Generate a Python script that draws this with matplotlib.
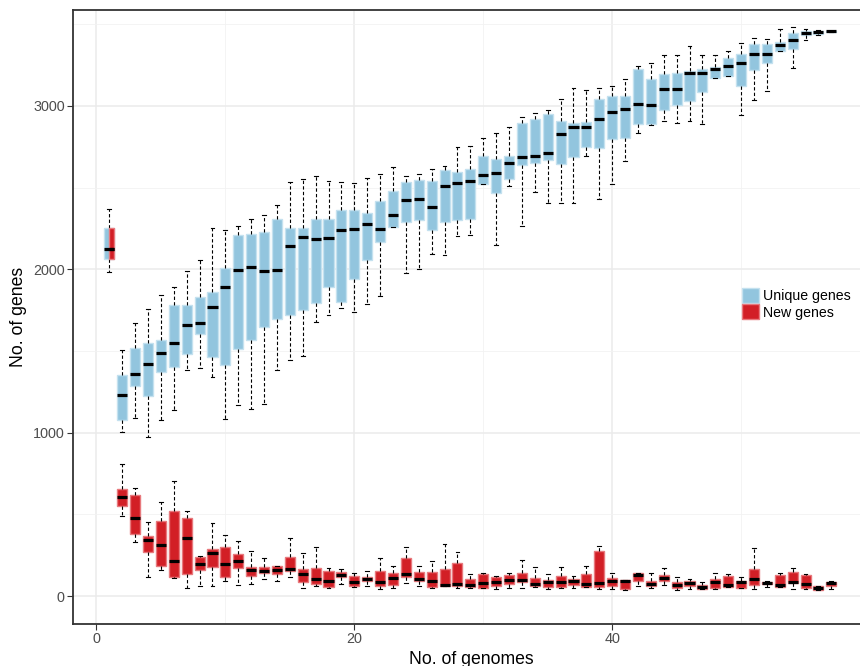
import numpy as np
import matplotlib
matplotlib.use("Agg")
import matplotlib.pyplot as plt
from matplotlib.patches import Patch

plt.rcParams['font.family'] = ['Liberation Sans', 'DejaVu Sans']

genomes = list(range(1, 58))

# unique genes: lower whisker, q1, median, q3, upper whisker
uniq_lo = [1985, 1004, 1088, 976, 1078, 1137, 1384, 1396, 1339, 1084,
           1169, 1145, 1178, 1386, 1445, 1467, 1677, 1720, 1761, 1739,
           1786, 1837, 2257, 1975, 2002, 2094, 2088, 2204, 2208, 2522,
           2147, 2508, 2265, 2473, 2406, 2408, 2404, 2691, 2428, 2522,
           2661, 2836, 2881, 2906, 2897, 2908, 2889, 3173, 3183, 2944,
           3036, 3093, 3338, 3232, 3403, 3432, 3453]
uniq_q1 = [2065, 1078, 1284, 1227, 1369, 1404, 1480, 1606, 1461, 1416,
           1512, 1569, 1645, 1696, 1722, 1750, 1796, 1894, 1800, 1943,
           2057, 2165, 2257, 2289, 2300, 2243, 2292, 2302, 2305, 2522,
           2465, 2551, 2640, 2648, 2668, 2642, 2687, 2751, 2742, 2799,
           2804, 2891, 2891, 2975, 3008, 3032, 3087, 3173, 3183, 3124,
           3222, 3265, 3338, 3350, 3432, 3440, 3454]
uniq_med = [2124, 1229, 1357, 1418, 1486, 1551, 1657, 1673, 1771, 1892,
            1996, 2016, 1992, 1996, 2141, 2200, 2185, 2194, 2238, 2247,
            2275, 2249, 2334, 2424, 2428, 2383, 2508, 2528, 2540, 2579,
            2589, 2648, 2685, 2693, 2714, 2828, 2871, 2871, 2922, 2961,
            2983, 3012, 3003, 3101, 3105, 3203, 3202, 3226, 3244, 3265,
            3316, 3318, 3371, 3405, 3448, 3452, 3456]
uniq_q3 = [2251, 1351, 1516, 1547, 1565, 1783, 1780, 1830, 1859, 2006,
           2210, 2216, 2226, 2310, 2253, 2251, 2306, 2308, 2361, 2361,
           2343, 2418, 2479, 2532, 2547, 2538, 2608, 2596, 2612, 2693,
           2677, 2694, 2893, 2918, 2950, 2906, 2897, 2899, 3044, 3059,
           3059, 3224, 3165, 3193, 3201, 3214, 3228, 3238, 3293, 3318,
           3379, 3381, 3389, 3444, 3460, 3460, 3458]
uniq_hi = [2369, 1506, 1673, 1759, 1843, 1890, 1988, 2057, 2251, 2238,
           2263, 2306, 2330, 2393, 2536, 2551, 2568, 2542, 2536, 2526,
           2559, 2581, 2628, 2573, 2583, 2614, 2634, 2746, 2755, 2805,
           2837, 2871, 2930, 2955, 2974, 3041, 3112, 3095, 3112, 3122,
           3167, 3242, 3263, 3314, 3314, 3364, 3314, 3314, 3334, 3383,
           3413, 3411, 3469, 3485, 3469, 3465, 3459]

# new genes
new_lo = [1985, 490, 331, 119, 160, 109, 48, 62, 64, 90,
          66, 74, 103, 94, 117, 52, 62, 50, 74, 56,
          64, 43, 50, 80, 60, 50, 64, 50, 48, 52,
          41, 50, 48, 56, 46, 52, 50, 54, 44, 43,
          37, 62, 48, 68, 39, 43, 43, 46, 54, 52,
          46, 54, 58, 43, 43, 37, 46]
new_q1 = [2065, 553, 378, 270, 182, 117, 133, 158, 178, 115,
          170, 121, 139, 135, 154, 88, 74, 58, 117, 62,
          90, 60, 68, 115, 92, 56, 64, 64, 56, 52,
          62, 72, 84, 62, 54, 54, 70, 54, 58, 62,
          45, 92, 60, 90, 48, 64, 43, 52, 54, 52,
          66, 72, 58, 78, 52, 37, 60]
new_med = [2124, 609, 476, 345, 315, 215, 358, 194, 264, 196,
           215, 160, 156, 158, 168, 135, 103, 90, 129, 84,
           105, 86, 109, 135, 103, 92, 70, 72, 68, 80,
           86, 97, 97, 74, 84, 84, 94, 76, 82, 90,
           90, 127, 72, 109, 66, 82, 56, 88, 68, 84,
           103, 82, 70, 88, 76, 48, 82]
new_q3 = [2251, 655, 621, 368, 458, 519, 478, 237, 286, 298,
          258, 180, 180, 182, 237, 168, 172, 152, 146, 120,
          119, 156, 141, 235, 149, 149, 164, 205, 107, 137,
          115, 127, 141, 109, 97, 121, 103, 137, 278, 113,
          97, 139, 90, 127, 88, 92, 66, 105, 123, 90,
          164, 88, 131, 149, 127, 60, 88]
new_hi = [2369, 806, 664, 455, 574, 704, 521, 243, 449, 376,
          335, 274, 233, 186, 354, 266, 303, 174, 164, 142,
          156, 235, 184, 298, 182, 215, 317, 270, 133, 139,
          125, 143, 219, 180, 133, 176, 125, 186, 307, 143,
          100, 143, 139, 174, 117, 107, 86, 139, 133, 115,
          294, 94, 139, 174, 137, 62, 94]

blue = '#92c5de'
blue_edge = '#c4e1ef'
red = '#d21f26'
red_edge = '#e8797d'


def make_stats(lo, q1, med, q3, hi):
    return [dict(whislo=a, q1=b, med=c, q3=d, whishi=e)
            for a, b, c, d, e in zip(lo, q1, med, q3, hi)]


def draw_boxes(ax, stats, pos, width, fill, edge, whiskers=True):
    wl = dict(color='black', linestyle=(0, (3, 2)), linewidth=0.8)
    if not whiskers:
        wl = dict(linestyle='none')
    ax.bxp(stats, positions=pos, widths=width, patch_artist=True,
           showfliers=False, manage_ticks=False,
           capwidths=0.3 if whiskers else 0.0,
           showcaps=whiskers,
           boxprops=dict(facecolor=fill, edgecolor=edge, linewidth=1.0),
           medianprops=dict(color='black', linewidth=2.3, solid_capstyle='butt'),
           whiskerprops=wl,
           capprops=dict(color='black', linewidth=0.8))


fig = plt.figure(figsize=(8.6, 6.66), dpi=100)
ax = fig.add_axes([73 / 860, 42 / 666, 797 / 860, 614 / 666])

uniq_stats = make_stats(uniq_lo, uniq_q1, uniq_med, uniq_q3, uniq_hi)
new_stats = make_stats(new_lo, new_q1, new_med, new_q3, new_hi)

draw_boxes(ax, new_stats[1:], genomes[1:], 0.78, red, red_edge)
draw_boxes(ax, uniq_stats, genomes, 0.78, blue, blue_edge)
# at one genome both curves coincide; the red box only shows on the right half
draw_boxes(ax, new_stats[:1], [genomes[0] + 0.195], 0.39, red, red_edge, whiskers=False)

ax.set_xlim(-1.82, 60.0)
ax.set_ylim(-171, 3587)
ax.set_xticks([0, 20, 40])
ax.set_yticks([0, 1000, 2000, 3000])
ax.set_xticks([10, 30, 50], minor=True)
ax.set_yticks([500, 1500, 2500, 3500], minor=True)
ax.grid(which='major', color='#ebebeb', linewidth=1.1, zorder=0)
ax.grid(which='minor', color='#f2f2f2', linewidth=0.6, zorder=0)
ax.set_axisbelow(True)
ax.tick_params(which='minor', length=0)
ax.tick_params(which='major', length=4, width=0.8, color='#333333',
               labelsize=10.4, labelcolor='#4d4d4d', pad=2)

for side in ['left', 'bottom', 'top']:
    ax.spines[side].set_color('#333333')
    ax.spines[side].set_linewidth(1.3)
ax.spines['right'].set_visible(False)

ax.set_xlabel('No. of genomes', fontsize=12.7, color='black', labelpad=3)
ax.set_ylabel('No. of genes', fontsize=12.7, color='black', labelpad=4)

handles = [Patch(facecolor=blue, edgecolor=blue_edge, label='Unique genes'),
           Patch(facecolor=red, edgecolor=red_edge, label='New genes')]
fig.legend(handles=handles, loc='upper left', bbox_to_anchor=(742 / 860, 1 - 288 / 666),
           frameon=False, fontsize=10.2, handlelength=1.2, handleheight=1.25,
           handletextpad=0.25, labelspacing=0.08, borderpad=0, borderaxespad=0)

fig.savefig('out.png', dpi=100)
